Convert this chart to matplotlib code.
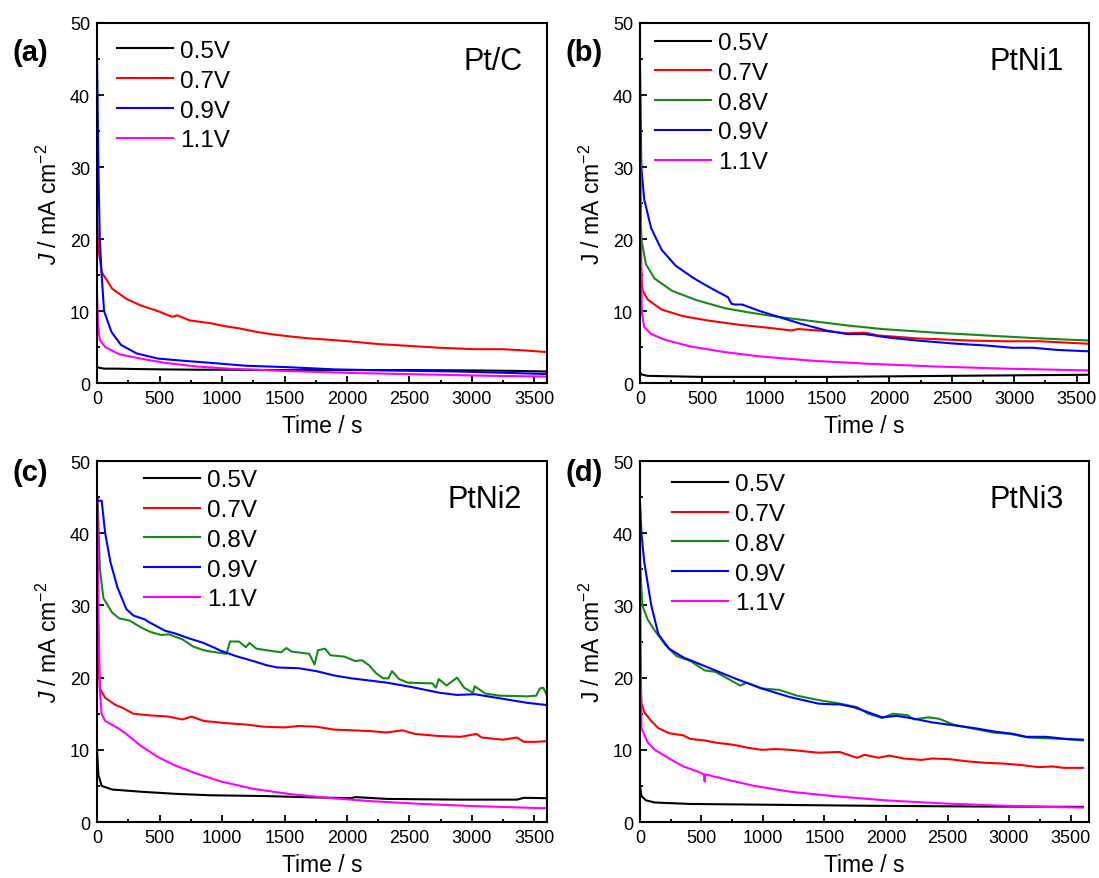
import matplotlib
matplotlib.use("Agg")
import matplotlib.pyplot as plt
from matplotlib.ticker import MultipleLocator

plt.rcParams['font.family'] = ['Liberation Sans', 'DejaVu Sans']
plt.rcParams['mathtext.fontset'] = 'custom'
plt.rcParams['mathtext.rm'] = 'Liberation Sans'
plt.rcParams['mathtext.it'] = 'Liberation Sans:italic'

# ---- (a) Pt/C ----
t_a_05 = [0, 5, 20, 60, 150, 300, 500, 800, 1000, 1500, 2000, 2500, 3000, 3300, 3600]
j_a_05 = [2.3, 2.2, 2.1, 2.0, 2.0, 1.95, 1.9, 1.85, 1.85, 1.8, 1.8, 1.8, 1.75, 1.7, 1.6]
t_a_07 = [0, 8, 37, 121, 234, 346, 501, 600, 642, 741, 910, 1022, 1135, 1276, 1388, 1529,
          1698, 1867, 2008, 2261, 2458, 2740, 3022, 3247, 3444, 3600]
j_a_07 = [23.0, 19.0, 15.4, 13.1, 11.7, 10.8, 9.9, 9.2, 9.4, 8.7, 8.3, 7.9, 7.6, 7.1, 6.8, 6.5,
          6.2, 6.0, 5.8, 5.4, 5.2, 4.9, 4.7, 4.7, 4.5, 4.3]
t_a_09 = [0, 11, 22, 37, 56, 115, 191, 318, 487, 684, 910, 1191, 1529, 1895, 2318, 2881, 3303, 3600]
j_a_09 = [45.0, 30.0, 20.0, 15.0, 10.0, 7.1, 5.3, 4.1, 3.4, 3.1, 2.8, 2.4, 2.2, 1.9, 1.75, 1.6, 1.4, 1.25]
t_a_11 = [0, 8, 22, 65, 177, 346, 543, 797, 1050, 1473, 2036, 2599, 3163, 3600]
j_a_11 = [12.0, 8.0, 6.0, 5.0, 4.0, 3.4, 2.8, 2.3, 2.0, 1.7, 1.4, 1.2, 1.0, 0.9]

# ---- (b) PtNi1 ----
t_b_05 = [0, 10, 60, 500, 1500, 2500, 3600]
j_b_05 = [1.6, 1.2, 1.0, 0.85, 0.85, 1.0, 1.15]
t_b_07 = [0, 11, 20, 62, 174, 342, 539, 791, 1016, 1212, 1269, 1465, 1661, 1802, 1914,
          2223, 2644, 2925, 3205, 3600]
j_b_07 = [21.0, 15.0, 12.9, 11.6, 10.2, 9.3, 8.7, 8.1, 7.7, 7.3, 7.5, 7.25, 6.9, 7.0, 6.6,
          6.2, 5.9, 5.8, 5.8, 5.45]
t_b_08 = [0, 11, 48, 118, 258, 455, 679, 876, 1100, 1381, 1661, 1942, 2363, 2784, 3205, 3600]
j_b_08 = [27.0, 20.0, 16.5, 14.5, 12.8, 11.5, 10.4, 9.8, 9.2, 8.6, 8.0, 7.5, 7.0, 6.6, 6.2, 5.9]
t_b_09 = [0, 11, 34, 90, 174, 286, 427, 567, 707, 721, 735, 763, 820, 960, 1128, 1297, 1493,
          1661, 1802, 1998, 2223, 2503, 2784, 2981, 3149, 3346, 3600]
j_b_09 = [44.5, 30.0, 25.5, 21.5, 18.5, 16.3, 14.6, 13.2, 11.9, 11.4, 11.0, 10.9, 10.9, 10.0,
          9.1, 8.2, 7.3, 6.8, 6.8, 6.3, 5.9, 5.5, 5.2, 4.9, 4.9, 4.6, 4.4]
t_b_11 = [0, 6, 14, 34, 90, 202, 399, 679, 960, 1381, 1802, 2363, 2925, 3600]
j_b_11 = [44.0, 27.0, 10.0, 7.8, 6.8, 6.0, 5.1, 4.3, 3.7, 3.1, 2.7, 2.3, 2.0, 1.75]

# ---- (c) PtNi2 ----
t_c_05 = [0, 11, 37, 121, 346, 628, 910, 1332, 1754, 2036, 2064, 2318, 2881, 3360, 3416, 3600]
j_c_05 = [9.9, 6.5, 5.0, 4.5, 4.2, 3.9, 3.7, 3.6, 3.4, 3.3, 3.45, 3.2, 3.1, 3.1, 3.35, 3.3]
t_c_07 = [0, 8, 23, 65, 149, 206, 290, 403, 572, 684, 755, 853, 1022, 1191, 1332, 1501, 1614,
          1754, 1895, 2177, 2318, 2444, 2543, 2740, 2909, 3036, 3078, 3247, 3360, 3416, 3500, 3600]
j_c_07 = [25.0, 23.5, 18.5, 17.2, 16.2, 15.8, 15.0, 14.8, 14.6, 14.2, 14.6, 14.0, 13.7, 13.5,
          13.2, 13.1, 13.3, 13.2, 12.8, 12.6, 12.4, 12.7, 12.2, 11.9, 11.8, 12.2, 11.7, 11.4,
          11.7, 11.1, 11.1, 11.2]
t_c_08 = [0, 6, 23, 51, 121, 177, 262, 346, 431, 515, 572, 684, 769, 853, 910, 1036, 1064,
          1135, 1191, 1219, 1276, 1473, 1515, 1557, 1698, 1740, 1768, 1825, 1867, 1980, 2064,
          2120, 2177, 2233, 2290, 2332, 2360, 2416, 2487, 2684, 2712, 2734, 2796, 2881, 2937,
          3008, 3022, 3106, 3219, 3444, 3514, 3543, 3571, 3600]
j_c_08 = [45.0, 44.0, 35.0, 31.0, 29.0, 28.2, 27.9, 27.0, 26.3, 25.9, 26.0, 25.3, 24.3, 23.8,
          23.6, 23.3, 25.0, 25.0, 24.2, 24.8, 24.0, 23.5, 24.1, 23.6, 23.3, 21.8, 23.8, 24.0,
          23.1, 22.9, 22.3, 22.4, 21.7, 20.6, 19.9, 19.9, 20.9, 19.8, 19.3, 19.2, 18.6, 19.8,
          18.9, 20.0, 18.6, 17.9, 18.8, 17.8, 17.5, 17.4, 17.5, 18.5, 18.6, 17.5]
t_c_09 = [0, 8, 37, 65, 107, 163, 234, 290, 375, 389, 403, 543, 628, 741, 853, 994, 1107, 1248,
          1360, 1445, 1614, 1754, 1895, 2036, 2177, 2318, 2515, 2740, 2881, 3022, 3163, 3304,
          3444, 3600]
j_c_09 = [45.0, 44.5, 44.5, 40.0, 36.0, 32.5, 29.5, 28.6, 28.1, 28.0, 27.8, 26.5, 26.1, 25.4,
          24.8, 23.7, 23.0, 22.3, 21.7, 21.4, 21.3, 20.9, 20.3, 19.9, 19.6, 19.3, 18.7, 17.9,
          17.6, 17.7, 17.3, 16.9, 16.5, 16.2]
t_c_11 = [0, 3, 11, 23, 37, 65, 177, 234, 346, 487, 628, 797, 994, 1248, 1529, 1811, 2177,
          2599, 3022, 3600]
j_c_11 = [45.0, 44.0, 30.0, 18.0, 15.0, 14.0, 12.9, 12.2, 10.6, 9.0, 7.8, 6.7, 5.6, 4.6, 3.9,
          3.4, 2.9, 2.5, 2.2, 1.9]

# ---- (d) PtNi3 ----
t_d_05 = [0, 12, 49, 121, 410, 988, 1854, 2720, 3600]
j_d_05 = [5.0, 3.6, 3.0, 2.7, 2.5, 2.4, 2.25, 2.15, 2.1]
t_d_07 = [0, 3, 12, 35, 92, 150, 237, 352, 410, 526, 612, 757, 872, 988, 1103, 1219, 1334,
          1450, 1623, 1709, 1767, 1825, 1940, 2027, 2143, 2287, 2374, 2518, 2662, 2807, 2951,
          3095, 3240, 3355, 3442, 3600]
j_d_07 = [20.0, 19.8, 16.5, 15.2, 14.0, 13.0, 12.3, 12.0, 11.5, 11.3, 11.0, 10.7, 10.3, 10.0,
          10.1, 10.0, 9.8, 9.6, 9.7, 9.2, 8.9, 9.3, 8.9, 9.2, 8.8, 8.6, 8.8, 8.7, 8.4, 8.2, 8.1,
          7.9, 7.6, 7.7, 7.5, 7.5]
t_d_08 = [0, 3, 20, 64, 121, 208, 295, 410, 526, 612, 699, 814, 872, 988, 1132, 1276, 1450,
          1623, 1767, 1854, 1969, 2056, 2172, 2229, 2345, 2431, 2547, 2720, 2865, 3009, 3153,
          3298, 3442, 3600]
j_d_08 = [36.0, 35.0, 30.0, 28.0, 26.5, 24.5, 23.0, 22.3, 21.0, 20.8, 20.0, 18.9, 19.3, 18.5,
          18.3, 17.5, 16.9, 16.4, 15.9, 15.0, 14.4, 15.0, 14.8, 14.2, 14.5, 14.3, 13.5, 12.9,
          12.4, 12.2, 11.7, 11.6, 11.5, 11.3]
t_d_09 = [0, 12, 35, 92, 150, 237, 352, 468, 612, 785, 988, 1219, 1450, 1565, 1623, 1739, 1854,
          1969, 2085, 2200, 2374, 2547, 2720, 2893, 3038, 3139, 3298, 3471, 3600]
j_d_09 = [44.5, 40.0, 36.0, 30.0, 26.0, 24.0, 22.8, 22.0, 21.0, 19.8, 18.5, 17.3, 16.4, 16.3,
          16.3, 15.9, 15.2, 14.5, 14.7, 14.4, 13.8, 13.4, 13.0, 12.5, 12.2, 11.8, 11.8, 11.5, 11.4]
t_d_11 = [0, 6, 12, 64, 121, 237, 352, 468, 520, 526, 531, 699, 930, 1219, 1565, 1998, 2431,
          2865, 3298, 3600]
j_d_11 = [44.5, 25.0, 13.0, 11.0, 10.0, 8.8, 7.7, 7.0, 6.6, 5.6, 6.6, 5.9, 5.0, 4.2, 3.6, 3.0,
          2.6, 2.3, 2.1, 2.0]

colors = {'0.5V': '#000000', '0.7V': '#FF0000', '0.8V': '#168A16',
          '0.9V': '#0000FF', '1.1V': '#FF00FF'}

panels = [
    dict(tag='(a)', name='Pt/C', ylabel=r'$\mathit{J}$ / mA cm$^{-2}$', xmax=3600,
         rect=[0.0883, 0.5631, 0.4094, 0.4096], tagpos=(0.011, 0.940),
         leg=(0.044, 0.953),
         curves=[('0.5V', t_a_05, j_a_05), ('0.7V', t_a_07, j_a_07),
                 ('0.9V', t_a_09, j_a_09), ('1.1V', t_a_11, j_a_11)]),
    dict(tag='(b)', name='PtNi1', ylabel=r'J / mA cm$^{-2}$', xmax=3600,
         rect=[0.5823, 0.5631, 0.4086, 0.4096], tagpos=(0.515, 0.940),
         leg=(0.033, 0.975),
         curves=[('0.5V', t_b_05, j_b_05), ('0.7V', t_b_07, j_b_07), ('0.8V', t_b_08, j_b_08),
                 ('0.9V', t_b_09, j_b_09), ('1.1V', t_b_11, j_b_11)]),
    dict(tag='(c)', name='PtNi2', ylabel=r'$\mathit{J}$ / mA cm$^{-2}$', xmax=3600,
         rect=[0.0883, 0.0637, 0.4094, 0.4107], tagpos=(0.011, 0.462),
         leg=(0.104, 0.977),
         curves=[('0.5V', t_c_05, j_c_05), ('0.7V', t_c_07, j_c_07), ('0.8V', t_c_08, j_c_08),
                 ('0.9V', t_c_09, j_c_09), ('1.1V', t_c_11, j_c_11)]),
    dict(tag='(d)', name='PtNi3', ylabel=r'J / mA cm$^{-2}$', xmax=3650,
         rect=[0.5823, 0.0637, 0.4086, 0.4107], tagpos=(0.515, 0.462),
         leg=(0.071, 0.966),
         curves=[('0.5V', t_d_05, j_d_05), ('0.7V', t_d_07, j_d_07), ('0.8V', t_d_08, j_d_08),
                 ('0.9V', t_d_09, j_d_09), ('1.1V', t_d_11, j_d_11)]),
]

fig = plt.figure(figsize=(10.99, 8.79), dpi=100)

for p in panels:
    ax = fig.add_axes(p['rect'])
    for label, t, j in p['curves']:
        ax.plot(t, j, color=colors[label], lw=1.5, label=label)

    ax.set_xlim(0, p['xmax'])
    ax.set_ylim(0, 50)
    ax.xaxis.set_major_locator(MultipleLocator(500))
    ax.xaxis.set_minor_locator(MultipleLocator(250))
    ax.yaxis.set_major_locator(MultipleLocator(10))
    ax.yaxis.set_minor_locator(MultipleLocator(5))
    ax.tick_params(which='both', direction='in', top=False, right=False,
                   labelsize=13, width=1.3, color='black')
    ax.tick_params(which='major', length=4.8, pad=5)
    ax.tick_params(which='minor', length=2.4)
    for s in ax.spines.values():
        s.set_linewidth(1.5)

    ax.set_xlabel('Time / s', fontsize=16.5, labelpad=5)
    ax.set_ylabel(p['ylabel'], fontsize=16.5, labelpad=6)

    ax.legend(loc='upper left', bbox_to_anchor=p['leg'], frameon=False, fontsize=17.5,
              handlelength=2.3, handletextpad=0.3, labelspacing=0.32,
              borderpad=0, borderaxespad=0)
    ax.text(0.945, 0.895, p['name'], transform=ax.transAxes, ha='right', va='center',
            fontsize=22)
    fig.text(p['tagpos'][0], p['tagpos'][1], p['tag'], ha='left', va='center',
             fontsize=21, fontweight='bold')

fig.savefig('out.png', dpi=100)
